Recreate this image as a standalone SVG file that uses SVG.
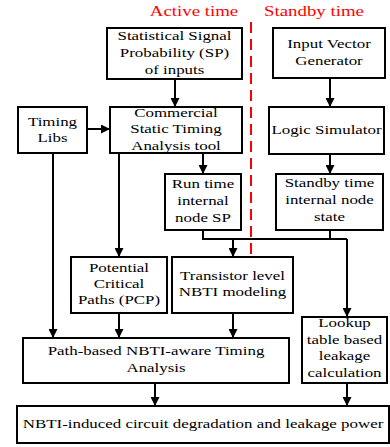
<svg xmlns="http://www.w3.org/2000/svg" width="390" height="447" viewBox="0 0 390 447">
<defs>
<marker id="arr" viewBox="0 0 10 10" refX="10" refY="5" markerWidth="9" markerHeight="9" markerUnits="userSpaceOnUse" orient="auto">
<path d="M0,0 L10,5 L0,10 z" fill="#000"/>
</marker>
<style>
.box{fill:#fff;stroke:#000;stroke-width:2}
.t{font-family:"Liberation Serif","Times New Roman",serif;font-size:13px;fill:#000;text-anchor:middle}
.h{font-family:"Liberation Serif","Times New Roman",serif;font-size:14.5px;fill:#ff0000;text-anchor:middle}
.c{fill:none;stroke:#000;stroke-width:2}
.a{marker-end:url(#arr)}
</style>
</defs>
<rect width="390" height="447" fill="#fff"/>
<g id="headers">
<text class="h" transform="translate(194,16) scale(1.3,1)">Active time</text>
<text class="h" transform="translate(314,16) scale(1.3,1)">Standby time</text>
<line x1="251" y1="22" x2="251" y2="254" stroke="#ff0000" stroke-width="2" stroke-dasharray="11,6"/>
</g>
<g id="connectors">
<path class="c a" d="M175,79 V107"/>
<path class="c a" d="M87,129 H110"/>
<path class="c a" d="M330,78 V107"/>
<path class="c a" d="M330,154 V174"/>
<path class="c a" d="M203,153 V174"/>
<path class="c a" d="M119,153 V257"/>
<path class="c a" d="M53,153 V338"/>
<path class="c" d="M203,230 V239 H347"/>
<path class="c" d="M330,230 V239"/>
<path class="c a" d="M233,239 V257"/>
<path class="c a" d="M347,239 V317"/>
<path class="c a" d="M119,313 V338"/>
<path class="c a" d="M233,313 V338"/>
<path class="c a" d="M155,383 V406"/>
<path class="c a" d="M347,383 V406"/>
</g>
<g id="ssp">
<rect class="box" x="107" y="28" width="135" height="51"/>
<text class="t" transform="translate(174.5,40) scale(1.3,1)"><tspan x="0">Statistical Signal</tspan><tspan x="0" dy="17">Probability (SP)</tspan><tspan x="0" dy="17">of inputs</tspan></text>
</g>
<g id="timinglibs">
<rect class="box" x="18" y="107" width="69" height="46"/>
<text class="t" transform="translate(52.5,126) scale(1.3,1)"><tspan x="0">Timing</tspan><tspan x="0" dy="16">Libs</tspan></text>
</g>
<g id="sta">
<rect class="box" x="110" y="107" width="132" height="46"/>
<text class="t" transform="translate(176,117) scale(1.3,1)"><tspan x="0">Commercial</tspan><tspan x="0" dy="16.5">Static Timing</tspan><tspan x="0" dy="16.5">Analysis tool</tspan></text>
</g>
<g id="ivg">
<rect class="box" x="273" y="28" width="112" height="50"/>
<text class="t" transform="translate(329,48) scale(1.3,1)"><tspan x="0">Input Vector</tspan><tspan x="0" dy="17">Generator</tspan></text>
</g>
<g id="logicsim">
<rect class="box" x="269" y="107" width="115" height="47"/>
<text class="t" transform="translate(326.5,134) scale(1.3,1)">Logic Simulator</text>
</g>
<g id="runtime">
<rect class="box" x="165" y="174" width="76" height="56"/>
<text class="t" transform="translate(203,188) scale(1.3,1)"><tspan x="0">Run time</tspan><tspan x="0" dy="17">internal</tspan><tspan x="0" dy="17">node SP</tspan></text>
</g>
<g id="standbystate">
<rect class="box" x="276" y="174" width="107" height="56"/>
<text class="t" transform="translate(329.5,187) scale(1.3,1)"><tspan x="0">Standby time</tspan><tspan x="0" dy="17">internal node</tspan><tspan x="0" dy="17">state</tspan></text>
</g>
<g id="pcp">
<rect class="box" x="71" y="257" width="96" height="56"/>
<text class="t" transform="translate(119,272) scale(1.3,1)"><tspan x="0">Potential</tspan><tspan x="0" dy="16">Critical</tspan><tspan x="0" dy="16">Paths (PCP)</tspan></text>
</g>
<g id="transistor">
<rect class="box" x="172" y="257" width="121" height="56"/>
<text class="t" transform="translate(232.5,280) scale(1.3,1)"><tspan x="0">Transistor level</tspan><tspan x="0" dy="16">NBTI modeling</tspan></text>
</g>
<g id="pathbased">
<rect class="box" x="23" y="338" width="266" height="45"/>
<text class="t" transform="translate(156,355) scale(1.3,1)"><tspan x="0">Path-based NBTI-aware Timing</tspan><tspan x="0" dy="17">Analysis</tspan></text>
</g>
<g id="lookup">
<rect class="box" x="302" y="317" width="85" height="66"/>
<text class="t" transform="translate(344.5,327) scale(1.3,1)"><tspan x="0">Lookup</tspan><tspan x="0" dy="17">table based</tspan><tspan x="0" dy="16.5">leakage</tspan><tspan x="0" dy="16.5">calculation</tspan></text>
</g>
<g id="result">
<rect class="box" x="17" y="406" width="372" height="37"/>
<text class="t" transform="translate(203,428) scale(1.3,1)">NBTI-induced circuit degradation and leakage power</text>
</g>
</svg>
